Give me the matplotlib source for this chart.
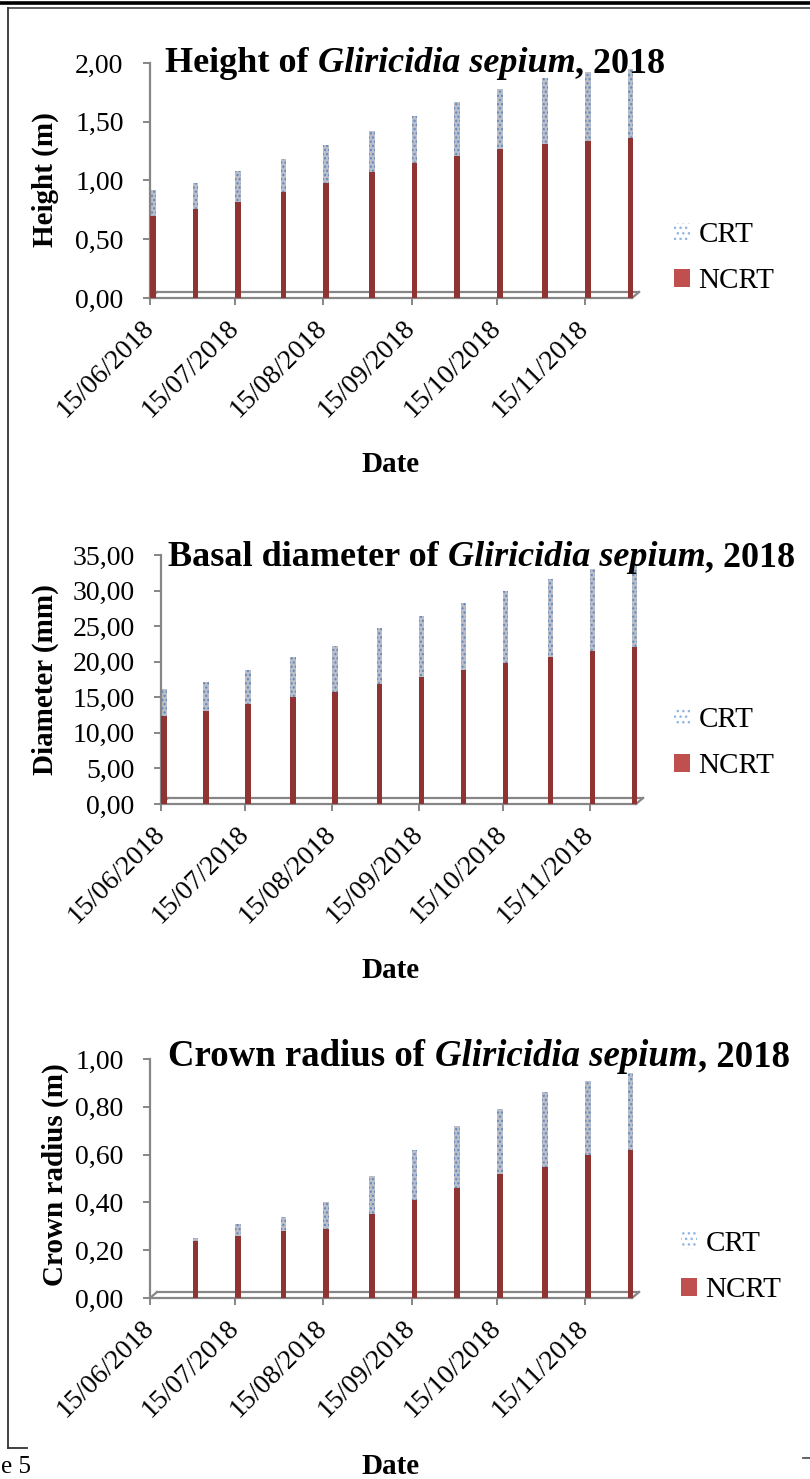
import numpy as np
import matplotlib
matplotlib.use("Agg")
import matplotlib.pyplot as plt
import matplotlib.dates as mdates
from matplotlib.patches import Patch
from matplotlib.ticker import FixedLocator, FuncFormatter
from matplotlib.lines import Line2D

# ── Dados ───────────────────────────────────────────────────────────────────
DATAS = ["2018-06-16", "2018-07-01", "2018-07-16", "2018-08-01",
         "2018-08-16", "2018-09-01", "2018-09-16", "2018-10-01",
         "2018-10-16", "2018-11-01", "2018-11-16", "2018-12-01"]
TICKS_X = ["2018-06-15", "2018-07-15", "2018-08-15",
           "2018-09-15", "2018-10-15", "2018-11-15"]

ALTURA_CRT  = [0.92, 0.98, 1.08, 1.18, 1.30, 1.42, 1.55, 1.67, 1.78, 1.87, 1.92, 1.95]
ALTURA_NCRT = [0.70, 0.76, 0.82, 0.90, 0.98, 1.07, 1.15, 1.21, 1.27, 1.31, 1.34, 1.36]

DIAM_CRT  = [16.1, 17.2, 18.8, 20.6, 22.2, 24.7, 26.4, 28.3, 30.0, 31.6, 33.0, 33.8]
DIAM_NCRT = [12.4, 13.1, 14.0, 15.0, 15.8, 16.9, 17.9, 18.9, 19.8, 20.6, 21.5, 22.0]

COPA_CRT  = [np.nan, 0.25, 0.31, 0.34, 0.40, 0.51, 0.62, 0.72, 0.79, 0.86, 0.91, 0.94]
COPA_NCRT = [np.nan, 0.24, 0.26, 0.28, 0.29, 0.35, 0.41, 0.46, 0.52, 0.55, 0.60, 0.62]

SERIES = ["CRT", "NCRT"]
# ───────────────────────────────────────────────────────────────────────────

W, H = 810, 1479
COR_EIXO = "#868686"
COR_NCRT = "#8f3432"
COR_CRT  = "#b9bec8"
FONTE = "Liberation Serif"

plt.rcParams["font.family"] = FONTE
plt.rcParams["hatch.linewidth"] = 1.0

fig = plt.figure(figsize=(W / 100, H / 100), dpi=100)
x = mdates.datestr2num(DATAS)
ticks = mdates.datestr2num(TICKS_X)
x_ini = mdates.datestr2num("2018-06-15")
x_fim = mdates.datestr2num("2018-12-04")


def eixo_px(esq, dir_, topo, base):
    return fig.add_axes([esq / W, 1 - base / H, (dir_ - esq) / W, (base - topo) / H])


def piso(ax, larg_px, alt_px):
    """Desenha o 'chão' em perspectiva do gráfico 3D do Excel."""
    dx, dy = 7 / larg_px, 6 / alt_px
    kw = dict(transform=ax.transAxes, color=COR_EIXO, lw=1.6, clip_on=False)
    ax.plot([0, 1 - dx], [0, 0], **kw)
    ax.plot([dx, 1], [dy, dy], **kw)
    ax.plot([1 - dx, 1], [0, dy], **kw)
    ax.plot([0, dx], [0, dy], **kw)


def titulo(x_px, y_px, partes, tam=26):
    renderer = fig.canvas.get_renderer()
    xp = x_px
    for texto, estilo, gap in partes:
        xp += gap
        t = fig.text(xp / W, 1 - y_px / H, texto, fontsize=tam, weight="bold",
                     style=estilo, ha="left", va="baseline")
        xp = t.get_window_extent(renderer).x1


def grafico(caixa, crt, ncrt, ymax, ystep, ylabel, ylabel_xy, tit, tit_xy,
            date_y, leg_xy, tam_tit=26):
    esq, dir_, topo, base = caixa
    ax = eixo_px(esq, dir_, topo, base)
    ax.bar(x, crt, width=2.0, color=COR_CRT, edgecolor="#5f86c0", hatch="....",
           linewidth=0, zorder=2)
    ax.bar(x, ncrt, width=2.0, color=COR_NCRT, linewidth=0, zorder=3)

    ax.set_xlim(x_ini, x_fim)
    ax.set_ylim(0, ymax)
    ax.xaxis.set_major_locator(FixedLocator(ticks))
    ax.xaxis.set_major_formatter(mdates.DateFormatter("%d/%m/%Y"))
    ax.yaxis.set_major_locator(FixedLocator(np.arange(0, ymax + ystep / 2, ystep)))
    ax.yaxis.set_major_formatter(FuncFormatter(lambda v, p: f"{v:.2f}".replace(".", ",")))

    for lado in ["top", "right", "bottom"]:
        ax.spines[lado].set_visible(False)
    ax.spines["left"].set_color(COR_EIXO)
    ax.spines["left"].set_linewidth(1.6)
    piso(ax, dir_ - esq, base - topo)

    ax.tick_params(axis="y", length=5, width=1.4, color=COR_EIXO, pad=14,
                   labelsize=20)
    ax.tick_params(axis="x", length=5, width=1.4, color=COR_EIXO, pad=14,
                   labelsize=20)
    for lbl in ax.get_xticklabels():
        lbl.set_rotation(45)
        lbl.set_ha("right")
        lbl.set_va("center")
        lbl.set_rotation_mode("anchor")

    fig.text(ylabel_xy[0] / W, 1 - ylabel_xy[1] / H, ylabel, rotation=90,
             fontsize=21, weight="bold", ha="center", va="center")
    fig.text(390 / W, 1 - date_y / H, "Date", fontsize=21, weight="bold",
             ha="center", va="center")
    titulo(tit_xy[0], tit_xy[1], tit, tam_tit)

    handles = [Patch(facecolor="white", edgecolor="#8eb4e3", hatch="...", linewidth=0),
               Patch(facecolor="#c0504d", edgecolor="#c0504d", linewidth=0)]
    fig.legend(handles, SERIES, loc="center left",
               bbox_to_anchor=(leg_xy[0] / W, 1 - leg_xy[1] / H),
               frameon=False, fontsize=21, handlelength=0.55, handleheight=0.55,
               handletextpad=0.3, labelspacing=0.7, borderpad=0)
    return ax


grafico((150, 639, 63, 298), ALTURA_CRT, ALTURA_NCRT, 2.0, 0.5, "Height (m)",
        (45, 180),
        [("Height of", "normal", 0), ("Gliricidia sepium", "italic", 9),
         (", 2018", "normal", 0)], (165, 72), 465, (659, 258))

grafico((161, 643, 555, 804), DIAM_CRT, DIAM_NCRT, 35.0, 5.0, "Diameter (mm)",
        (45, 680),
        [("Basal diameter of", "normal", 0), ("Gliricidia sepium", "italic", 9),
         (", 2018", "normal", 0)], (168, 566), 970, (659, 743))

grafico((150, 639, 1059, 1298), COPA_CRT, COPA_NCRT, 1.0, 0.2, "Crown radius (m)",
        (55, 1175),
        [("Crown radius of", "normal", 0), ("Gliricidia sepium", "italic", 10),
         (", 2018", "normal", 0)], (168, 1066), 1466, (666, 1267), tam_tit=26.5)

# moldura da página
fig.add_artist(Line2D([0, 1], [1 - 3 / H, 1 - 3 / H], color="black", lw=2.6))
fig.add_artist(Line2D([8 / W, 1], [1 - 7.5 / H, 1 - 7.5 / H], color="#333333", lw=1.1))
fig.add_artist(Line2D([8 / W, 8 / W], [1 - 7.5 / H, 1 - 1448 / H], color="#333333", lw=1.3))
fig.add_artist(Line2D([8 / W, 27 / W], [1 - 1448 / H, 1 - 1448 / H], color="#333333", lw=1.3))
fig.add_artist(Line2D([803 / W, 1], [1 - 1458 / H, 1 - 1458 / H], color="#555555", lw=1.3))
fig.text(1 / W, 1 - 1478 / H, "e 5", fontsize=18, ha="left", va="bottom")

fig.savefig("out.png", dpi=100)
